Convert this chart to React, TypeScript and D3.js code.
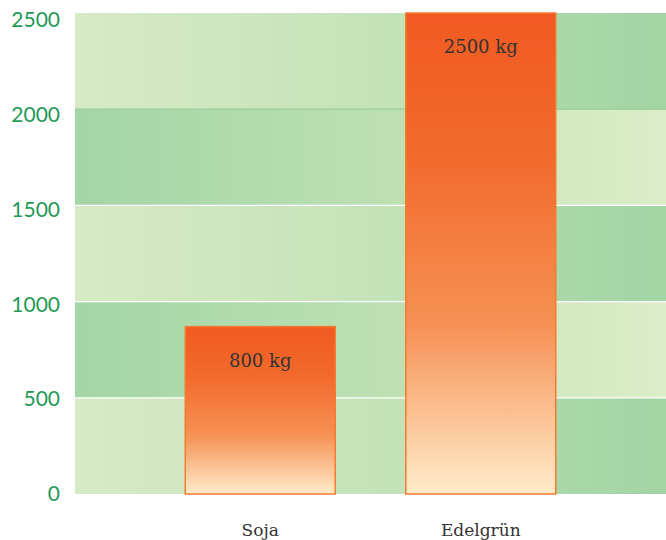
import React from "react";
import * as d3 from "d3";

const categories = ["Soja", "Edelgrün"];
const values = [870, 2500];
const valueLabels = ["800 kg", "2500 kg"];
const yTicks = [0, 500, 1000, 1500, 2000, 2500];

const W = 666;
const H = 540;
const M = { left: 75, right: 0, top: 13, bottom: 46 };

export default function App() {
  const x = d3
    .scaleBand<string>()
    .domain(categories)
    .range([M.left, W - M.right])
    .paddingInner(0.32)
    .paddingOuter(0.5);
  const y = d3.scaleLinear().domain([0, 2500]).range([H - M.bottom, M.top]);
  // tick labels sit slightly lower than their gridlines, more so near the top
  const labelY = d3.scaleLinear().domain([0, 2500]).range([496, 21.5]);

  const splitX = (x(categories[1]) ?? 0) + x.bandwidth() / 2;
  const bands = d3.range(yTicks.length - 1).map((i) => ({
    i,
    y0: yTicks[i],
    y1: yTicks[i + 1],
  }));

  return (
    <svg
      width={W}
      height={H}
      style={{ position: "absolute", left: 0, top: 0 }}
    >
      <defs>
        <linearGradient id="lLight" x1="0" x2="1" y1="0" y2="0">
          <stop offset="0" stopColor="#d7eac6" />
          <stop offset="1" stopColor="#bde0b3" />
        </linearGradient>
        <linearGradient id="lDark" x1="0" x2="1" y1="0" y2="0">
          <stop offset="0" stopColor="#a4d5a6" />
          <stop offset="1" stopColor="#c4e3b6" />
        </linearGradient>
        <linearGradient id="rDark" x1="0" x2="1" y1="0" y2="0">
          <stop offset="0" stopColor="#b0dbac" />
          <stop offset="1" stopColor="#a2d4a4" />
        </linearGradient>
        <linearGradient id="rLight" x1="0" x2="1" y1="0" y2="0">
          <stop offset="0" stopColor="#cbe6bc" />
          <stop offset="1" stopColor="#dcedc8" />
        </linearGradient>
        <linearGradient id="barGrad" x1="0" x2="0" y1="0" y2="1">
          <stop offset="0" stopColor="#f15a22" />
          <stop offset="0.3" stopColor="#f26a2c" />
          <stop offset="0.65" stopColor="#f69155" />
          <stop offset="1" stopColor="#ffecca" />
        </linearGradient>
      </defs>

      {bands.map((b) => (
        <g key={b.i}>
          <rect
            x={M.left}
            y={y(b.y1)}
            width={splitX - M.left}
            height={y(b.y0) - y(b.y1)}
            fill={b.i % 2 === 0 ? "url(#lLight)" : "url(#lDark)"}
          />
          <rect
            x={splitX}
            y={y(b.y1)}
            width={W - M.right - splitX}
            height={y(b.y0) - y(b.y1)}
            fill={b.i % 2 === 0 ? "url(#rDark)" : "url(#rLight)"}
          />
        </g>
      ))}

      {yTicks.slice(1, -1).map((t) => (
        <line
          key={t}
          x1={M.left}
          x2={W - M.right}
          y1={y(t)}
          y2={y(t)}
          stroke={t === 2000 ? "#95cb92" : "#ffffff"}
          strokeWidth={1.3}
        />
      ))}

      {yTicks.map((t) => (
        <text
          key={t}
          x={60}
          y={labelY(t)}
          textAnchor="end"
          dominantBaseline="middle"
          fontFamily="Lato, 'Open Sans', sans-serif"
          fontSize={21}
          fill="#1f9a58"
        >
          {t}
        </text>
      ))}

      {categories.map((c, i) => {
        const bx = x(c) ?? 0;
        const top = y(values[i]);
        const h = y(0) - top;
        return (
          <g key={c}>
            <rect
              x={bx}
              y={top}
              width={x.bandwidth()}
              height={h}
              fill="url(#barGrad)"
              stroke="#f47b30"
              strokeWidth={1.5}
            />
            <text
              x={bx + x.bandwidth() / 2}
              y={top + 40}
              textAnchor="middle"
              fontFamily="'DejaVu Serif', serif"
              fontSize={18}
              fill="#333333"
            >
              {valueLabels[i]}
            </text>
            <text
              x={bx + x.bandwidth() / 2}
              y={536}
              textAnchor="middle"
              fontFamily="'DejaVu Serif', serif"
              fontSize={17}
              fill="#333333"
            >
              {c}
            </text>
          </g>
        );
      })}
    </svg>
  );
}
